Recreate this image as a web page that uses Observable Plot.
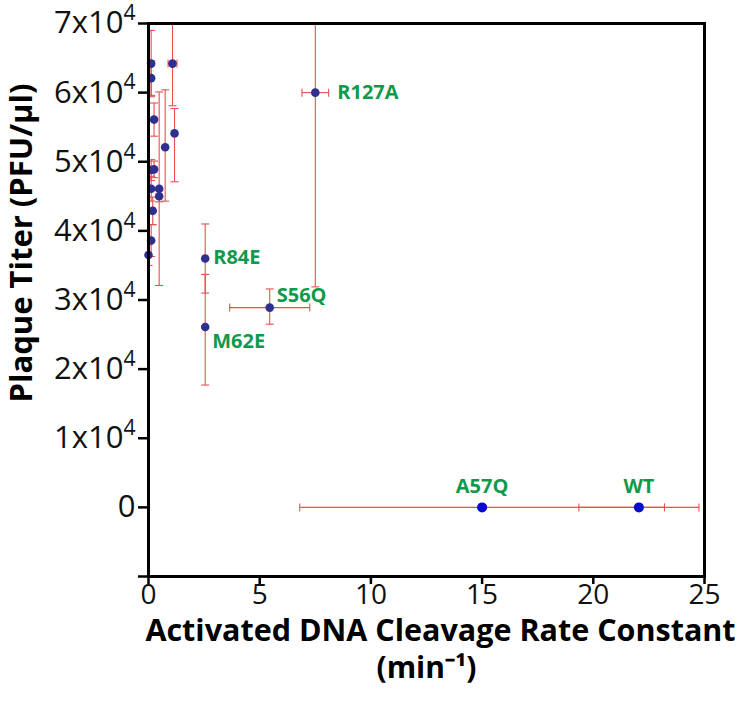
<!DOCTYPE html>
<html><head><meta charset="utf-8">
<script src="https://cdn.jsdelivr.net/npm/d3@7"></script>
<script src="https://cdn.jsdelivr.net/npm/@observablehq/plot@0.6"></script>
<style>body{margin:0;background:#fff} svg{display:block}</style>
</head><body><div id="chart"></div>
<script>
// Data
const mutants   = ["", "", "", "", "", "", "", "", "", "", "", "", "", "", "R127A", "R84E", "M62E", "S56Q", "A57Q", "WT"];
const rate      = [0.12, 0.12, 1.08, 0.25, 1.17, 0.75, 0.12, 0.25, 0.12, 0.48, 0.48, 0.19, 0.12, 0.0, 7.5, 2.55, 2.55, 5.45, 15.0, 22.05];
const rateErr   = [0, 0, 0.2, 0, 0, 0, 0, 0, 0, 0, 0, 0, 0, 0, 0.6, 0, 0, 1.8, 8.2, 2.7];
const titer     = [64200, 62100, 64200, 56100, 54100, 52100, 48800, 48900, 46100, 46100, 45000, 42900, 38600, 36500, 60000, 36000, 26100, 28900, 0, 0];
const titerLow  = [4800, 2500, 6100, 2400, 7000, 7800, 1500, 1200, 1800, 14000, 800, 2000, 2300, 1500, 28100, 5000, 8400, 2400, 0, 0];
const titerHigh = [4800, 2500, 6100, 2400, 3600, 8300, 1500, 1200, 1800, 14000, 800, 2000, 2300, 1500, 28100, 5000, 7600, 2700, 0, 0];
const xTicks = [0, 5, 10, 15, 20, 25];
const yTicks = [-10000, 0, 10000, 20000, 30000, 40000, 50000, 60000, 70000];

const data = mutants.map((m, i) => ({
  name: m, x: rate[i], xe: rateErr[i], y: titer[i], ylo: titerLow[i], yhi: titerHigh[i],
  bright: m === "A57Q" || m === "WT"
}));
const vErr = data.filter(d => d.ylo > 0 || d.yhi > 0);
const hErr = data.filter(d => d.xe > 0);
const vCaps = vErr.flatMap(d => [{x: d.x, y: d.y - d.ylo}, {x: d.x, y: d.y + d.yhi}]);
const hCaps = hErr.flatMap(d => [{x: d.x - d.xe, y: d.y}, {x: d.x + d.xe, y: d.y}]);

const capH = {draw(ctx) { ctx.moveTo(-4, 0); ctx.lineTo(4, 0); }};
const capV = {draw(ctx) { ctx.moveTo(0, -4); ctx.lineTo(0, 4); }};
const red = "#e4514f";
const green = "#0e9a4a";
const font = "'Open Sans', sans-serif";

const sup = d => d < 0 ? "" : d === 0 ? "0" : `${d / 10000}x10\u2074`;

const chart = Plot.plot({
  width: 750, height: 705,
  marginLeft: 148, marginRight: 46, marginTop: 23, marginBottom: 129,
  style: {fontFamily: font, background: "#fff"},
  x: {domain: [0, 25]},
  y: {domain: [-10000, 70000]},
  marks: [
    Plot.link(vErr, {x1: "x", x2: "x", y1: d => d.y - d.ylo, y2: d => d.y + d.yhi, stroke: red, strokeWidth: 1.1, clip: true}),
    Plot.link(hErr, {x1: d => d.x - d.xe, x2: d => d.x + d.xe, y1: "y", y2: "y", stroke: red, strokeWidth: 1.1, clip: true}),
    Plot.dot(vCaps, {x: "x", y: "y", symbol: capH, stroke: red, fill: "none", strokeWidth: 1.1, clip: true}),
    Plot.dot(hCaps, {x: "x", y: "y", symbol: capV, stroke: red, fill: "none", strokeWidth: 1.1, clip: true}),
    Plot.dot(data.filter(d => !d.bright), {x: "x", y: "y", r: 4.3, fill: "#2e2f8f", stroke: "none"}),
    Plot.dot(data.filter(d => d.bright), {x: "x", y: "y", r: 5, fill: "#0a0acc", stroke: "none"}),
    Plot.frame({stroke: "#000", strokeWidth: 3}),
    Plot.axisX({ticks: xTicks, tickSize: 8, tickPadding: 0, tickFormat: d => String(d), fontSize: 28, strokeWidth: 2.5, label: null, fill: "#111"}),
    Plot.axisY({ticks: yTicks, tickSize: 10, tickPadding: 3, tickFormat: sup, fontSize: 31, strokeWidth: 2.5, label: null, fill: "#111"}),
    // point labels
    Plot.text(data.filter(d => d.name === "R127A"), {x: "x", y: "y", text: "name", dx: 22, textAnchor: "start", fill: green, fontSize: 20, fontWeight: "bold"}),
    Plot.text(data.filter(d => d.name === "R84E"), {x: "x", y: "y", text: "name", dx: 8, dy: -1, textAnchor: "start", fill: green, fontSize: 20, fontWeight: "bold"}),
    Plot.text(data.filter(d => d.name === "S56Q"), {x: "x", y: "y", text: "name", dx: 7, dy: -12, textAnchor: "start", fill: green, fontSize: 20, fontWeight: "bold"}),
    Plot.text(data.filter(d => d.name === "M62E"), {x: "x", y: "y", text: "name", dx: 7, dy: 15, textAnchor: "start", fill: green, fontSize: 20, fontWeight: "bold"}),
    Plot.text(data.filter(d => d.bright), {x: "x", y: "y", text: "name", dy: -21, textAnchor: "middle", fill: green, fontSize: 20, fontWeight: "bold"}),
    // axis titles
    Plot.text(["Activated DNA Cleavage Rate Constant"], {frameAnchor: "bottom", dx: 14, dy: 64, fontSize: 30.5, fontWeight: "bold", fill: "#000"}),
    Plot.text(["(min\u207B\u00B9)"], {frameAnchor: "bottom", dx: 0, dy: 101, fontSize: 30, fontWeight: "bold", fill: "#000"}),
    Plot.text(["Plaque Titer (PFU/\u03BCl)"], {frameAnchor: "left", textAnchor: "middle", dx: -126, dy: -57, rotate: -90, fontSize: 31, fontWeight: "bold", fill: "#000"})
  ]
});
// render the exponent as a raised superscript
d3.select(chart).selectAll('g[aria-label="y-axis tick label"] text').each(function() {
  const t = this.textContent;
  if (t.includes("\u2074")) {
    const base = t.replace("\u2074", "");
    const sel = d3.select(this);
    sel.text(base);
    sel.append("tspan").attr("font-size", "0.68em").attr("dy", "-0.62em").text("4");
  }
});
document.getElementById("chart").appendChild(chart);
</script>
</body></html>
